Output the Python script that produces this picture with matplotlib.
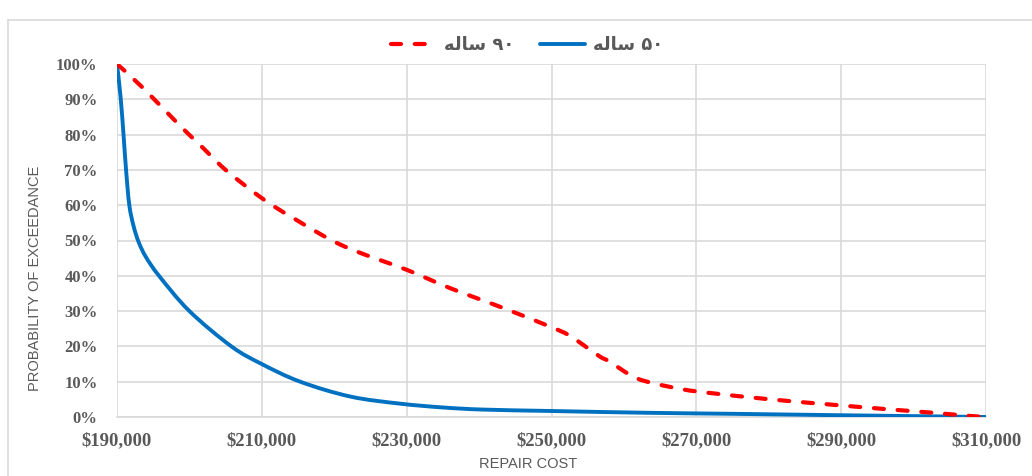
import matplotlib.pyplot as plt
from matplotlib.lines import Line2D
from matplotlib.path import Path
from matplotlib.patches import PathPatch

# داده‌ها (خوانده شده از نمودار)
cost_50 = [190000, 190500, 190900, 191250, 191700, 192300, 193000, 194000, 195800,
           200000, 205800, 210000, 215300, 222200, 229000, 235000, 240600, 250000,
           263000, 275000, 290000, 300000, 310000]
prob_50 = [100, 90.5, 80, 70, 60, 54, 49.5, 45.3, 40,
           30, 20, 15, 10, 5.8, 3.8, 2.7, 2.1, 1.7,
           1.2, 0.9, 0.5, 0.25, 0]

cost_90 = [190000, 193600, 198700, 201500, 205000, 210000, 214300, 221200,
           230000, 236000, 243300, 249800, 252300, 254400, 256700, 258000, 261300,
           264000, 268200, 271900, 279700, 287500, 295800, 302700, 307800, 310000]
prob_90 = [100, 93.2, 82.5, 77, 70, 62, 56.4, 48.5,
           41.7, 36.5, 30.9, 25.6, 23.3, 20.4, 17.1, 15.7, 11.4,
           9.6, 7.8, 6.8, 5.1, 3.7, 2.3, 1.2, 0.3, 0]

x_ticks = [190000, 210000, 230000, 250000, 270000, 290000, 310000]
y_ticks = [0, 10, 20, 30, 40, 50, 60, 70, 80, 90, 100]

# برچسب‌های راهنما: "۵۰ ساله" و "۹۰ ساله" (شکل‌دهی دستی حروف عربی)
label_50 = "\uFEEA\uFEDF\uFE8E\uFEB3 \u06F5\u06F0"
label_90 = "\uFEEA\uFEDF\uFE8E\uFEB3 \u06F9\u06F0"

grid_c = "#d9d9d9"
text_c = "#595959"
blue = "#0070c0"
red = "#ff0000"
red_dash = (2.4, 3.3)


def smooth_path(xs, ys, sx, sy):
    """مسیر بزیه هموار مانند خط هموار اکسل (کنترل‌ها در فضای پیکسل محاسبه می‌شوند)"""
    px = [x * sx for x in xs]
    py = [y * sy for y in ys]
    n = len(px)
    verts = [(xs[0], ys[0])]
    codes = [Path.MOVETO]
    for i in range(n - 1):
        i0 = max(i - 1, 0)
        i3 = min(i + 2, n - 1)
        c1 = (px[i] + (px[i + 1] - px[i0]) / 6, py[i] + (py[i + 1] - py[i0]) / 6)
        c2 = (px[i + 1] - (px[i3] - px[i]) / 6, py[i + 1] - (py[i3] - py[i]) / 6)
        verts += [(c1[0] / sx, c1[1] / sy), (c2[0] / sx, c2[1] / sy), (xs[i + 1], ys[i + 1])]
        codes += [Path.CURVE4] * 3
    return Path(verts, codes)


fig = plt.figure(figsize=(10.32, 4.76), dpi=100)
W, H = 1032, 476
ax = fig.add_axes([117 / W, 1 - 417 / H, (986 - 117) / W, (417 - 64) / H])
ax.set_xlim(190000, 310000)
ax.set_ylim(0, 100)

# مقیاس پیکسل به ازای واحد داده
sx = 869 / 120000
sy = 353 / 100

p50 = PathPatch(smooth_path(cost_50, prob_50, sx, sy), facecolor="none",
                edgecolor=blue, lw=2.8, capstyle="round", joinstyle="round", zorder=3)
p90 = PathPatch(smooth_path(cost_90, prob_90, sx, sy), facecolor="none",
                edgecolor=red, lw=3.0, linestyle=(0, red_dash), capstyle="round",
                joinstyle="round", zorder=4)
ax.add_patch(p50)
ax.add_patch(p90)

ax.set_xticks(x_ticks, labels=[f"${v:,}" for v in x_ticks],
              fontfamily="Liberation Serif", fontweight="bold", fontsize=13.5)
ax.set_yticks(y_ticks, labels=[f"{v}%" for v in y_ticks],
              fontfamily="Liberation Serif", fontweight="bold", fontsize=12)

ax.grid(True, color=grid_c, lw=1.2)
ax.set_axisbelow(True)
for s in ["top", "right", "left"]:
    ax.spines[s].set_visible(False)
ax.spines["bottom"].set_color(grid_c)
ax.spines["bottom"].set_linewidth(1.2)
ax.tick_params(length=0, colors=text_c)
ax.tick_params(axis="x", pad=11)
ax.tick_params(axis="y", pad=14)

ax.set_xlabel("REPAIR COST", fontfamily="Liberation Sans", fontsize=10.5, color=text_c)
ax.xaxis.set_label_coords((528 - 117) / 869, -(457 - 417) / 353)
ax.set_ylabel("PROBABILITY OF EXCEEDANCE", fontfamily="Liberation Sans",
              fontsize=10.5, color=text_c)
ax.yaxis.set_label_coords(-(117 - 42) / 869, (417 - 278) / 353)

# راهنما: ابتدا ۹۰ ساله سپس ۵۰ ساله
handles = [Line2D([], [], color=red, lw=3.0, dashes=red_dash, dash_capstyle="round"),
           Line2D([], [], color=blue, lw=2.8, solid_capstyle="round")]
leg = fig.legend(handles, [label_90, label_50], loc="center",
                 bbox_to_anchor=(527 / W, 1 - 45 / H), ncol=2, frameon=False,
                 handlelength=2.5, handletextpad=0.45, columnspacing=1.4,
                 prop={"family": ["DejaVu Sans"], "weight": "bold", "size": 13})
for t in leg.get_texts():
    t.set_color(text_c)

# کادر نمودار
fig.add_artist(Line2D([8 / W, 8 / W], [0, 1 - 20 / H], color=grid_c, lw=1.2))
fig.add_artist(Line2D([8 / W, 1], [1 - 20 / H, 1 - 20 / H], color=grid_c, lw=1.2))

fig.savefig("out.png", dpi=100)
